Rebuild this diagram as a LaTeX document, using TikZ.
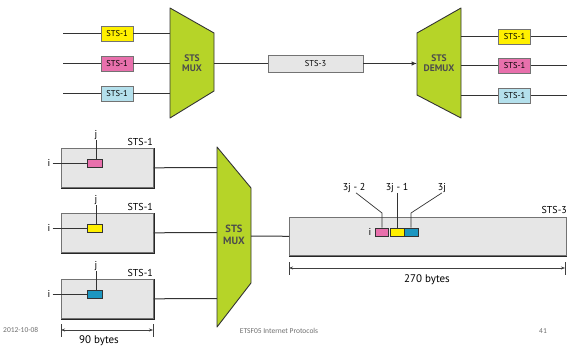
\documentclass[tikz,border=0pt]{standalone}
\usepackage{fontspec}
\setmainfont{PT Sans}
\newfontfamily\footfont{Carlito}
\usetikzlibrary{arrows.meta}
\definecolor{muxgreen}{RGB}{182,212,40}
\definecolor{stspink}{RGB}{232,112,172}
\definecolor{stsyellow}{RGB}{255,240,0}
\definecolor{stslblue}{RGB}{180,224,236}
\definecolor{stsblue}{RGB}{28,150,192}
\definecolor{framegray}{RGB}{230,230,230}
\definecolor{textgray}{RGB}{110,110,110}
\tikzset{
  wire/.style={draw=black!80, line width=1pt},
  thinwire/.style={draw=black!80, line width=0.7pt},
  tagbox/.style={draw=black!55, line width=0.6pt, minimum width=32pt, minimum height=15pt,
    inner sep=0pt, font=\fontsize{8.5}{9}\selectfont},
  muxshape/.style={fill=muxgreen, draw=black!80, line width=0.9pt, line join=round},
  muxtext/.style={font=\fontsize{9.5}{10.5}\selectfont\bfseries, text=black!70, align=center, inner sep=0pt},
  frame/.style={fill=framegray, draw=black!55, line width=0.6pt},
  shadowedge/.style={draw=black!85, line width=1.6pt},
  slot/.style={draw=black!80, line width=0.6pt, minimum width=15pt, minimum height=8pt, inner sep=0pt},
  lbl/.style={font=\fontsize{10}{11}\selectfont, inner sep=0pt},
  dimline/.style={draw=black!75, line width=0.6pt},
  dimarrow/.style={dimline, {Stealth[length=4pt,width=3pt]}-{Stealth[length=4pt,width=3pt]}},
  foot/.style={font=\footfont\fontsize{7.5}{8}\selectfont, text=textgray, inner sep=0pt}
}
\begin{document}
\begin{tikzpicture}[x=1pt, y=-1pt]
\useasboundingbox (0,0) rectangle (567,350);

% ---------- upper part: multiplexer and demultiplexer ----------
\draw[muxshape] (170,8) -- (214,33) -- (214,91) -- (170,118) -- cycle;
\node[muxtext] (mux) at (192,63) {STS\\MUX};
\coordinate (muxin1) at (170,34);
\coordinate (muxin2) at (170,64);
\coordinate (muxin3) at (170,94);
\coordinate (muxout) at (214,63.5);

\draw[muxshape] (417,33) -- (461,8) -- (461,118) -- (417,95) -- cycle;
\node[muxtext] (demux) at (439,63) {STS\\DEMUX};
\coordinate (dmxin) at (417,63.5);
\coordinate (dmxout1) at (461,37);
\coordinate (dmxout2) at (461,66);
\coordinate (dmxout3) at (461,96);

% input tributaries
\coordinate (src1) at (63,34);
\coordinate (src2) at (63,64);
\coordinate (src3) at (63,94);
\node[tagbox, fill=stsyellow] (in1) at (117,34) {STS-1};
\node[tagbox, fill=stspink]   (in2) at (117,64) {STS-1};
\node[tagbox, fill=stslblue]  (in3) at (117,94) {STS-1};
\foreach \k in {1,2,3} {
  \draw[wire] (src\k) -- (in\k.west);
  \draw[wire] (in\k.east) -- (muxin\k);
}

% aggregate signal
\node[frame, minimum width=95pt, minimum height=17pt, inner sep=0pt,
      font=\fontsize{8.5}{9}\selectfont] (sts3) at (315.5,63.5) {STS-3};
\draw[wire] (muxout) -- (sts3.west);
\draw[wire, -{Latex[length=5.5pt,width=4.5pt]}] (sts3.east) -- (dmxin);

% output tributaries
\coordinate (dst1) at (567,37);
\coordinate (dst2) at (567,66);
\coordinate (dst3) at (567,96);
\node[tagbox, fill=stsyellow] (out1) at (514.5,37) {STS-1};
\node[tagbox, fill=stspink]   (out2) at (514.5,66) {STS-1};
\node[tagbox, fill=stslblue]  (out3) at (514.5,96) {STS-1};
\foreach \k in {1,2,3} {
  \draw[wire] (dmxout\k) -- (out\k.west);
  \draw[wire] (out\k.east) -- (dst\k);
}

% ---------- lower part: byte interleaving ----------
\draw[muxshape] (217,147) -- (251,188) -- (251,283) -- (217,327) -- cycle;
\node[muxtext, font=\fontsize{10.5}{12}\selectfont\bfseries] (mux2) at (234,235) {STS\\MUX};

\foreach \k/\top/\col in {1/148/stspink, 2/213/stsyellow, 3/279/stsblue} {
  \node[frame, minimum width=92pt, minimum height=39pt, inner sep=0pt, anchor=north west]
    (f\k) at (61,\top) {};
  \draw[shadowedge] ([xshift=0.8pt]f\k.north east) -- ([xshift=0.8pt,yshift=-0.8pt]f\k.south east)
                    -- ([yshift=-0.8pt]f\k.south west);
  \node[slot, fill=\col] (b\k) at (95,\top+15) {};
  \node[lbl] (j\k) at (96,\top-13) {j};
  \node[lbl] (i\k) at (49,\top+15) {i};
  \node[lbl, anchor=east] (n\k) at (153,\top-6) {STS-1};
  \draw[thinwire] (j\k.south) -- (b\k.north -| j\k.south);
  \draw[thinwire] (i\k.east) ++(2,0) -- (b\k.west);
  \coordinate (m\k) at (217,\top+19.5);
  \draw[wire] (f\k.east) -- (m\k);
}

% interleaved STS-3 frame
\node[frame, minimum width=277pt, minimum height=38pt, inner sep=0pt, anchor=north west]
  (g) at (289,217) {};
\draw[shadowedge] ([xshift=0.8pt]g.north east) -- ([xshift=0.8pt,yshift=-0.8pt]g.south east)
                  -- ([yshift=-0.8pt]g.south west);
\node[lbl, anchor=east] (gn) at (567,210) {STS-3};
\coordinate (mux2out) at (251,236);
\draw[wire] (mux2out) -- (g.west);

\node[slot, fill=stspink,   minimum width=13pt] (s1) at (382,232) {};
\node[slot, fill=stsyellow, minimum width=14pt] (s2) at (397,232) {};
\node[slot, fill=stsblue,   minimum width=14pt] (s3) at (411,232) {};
\node[lbl] (gi) at (370,232) {i};

\node[lbl] (t1) at (354,188) {3j - 2};
\node[lbl] (t2) at (397,188) {3j - 1};
\node[lbl] (t3) at (442,188) {3j};
\draw[thinwire] ([xshift=2pt]t1.south) -- (382,213) -- (s1.north);
\draw[thinwire] (t2.south) -- (s2.north);
\draw[thinwire] (t3.south) -- (411,213) -- (s3.north);

% dimensions
\coordinate (d1a) at (289,268);
\coordinate (d1b) at (565,268);
\draw[dimline] (289,262) -- (289,275) (565,262) -- (565,275);
\draw[dimarrow] (d1a) -- (d1b);
\node[lbl, font=\fontsize{11}{12}\selectfont] (d1t) at (427,280) {270 bytes};

\coordinate (d2a) at (61,330);
\coordinate (d2b) at (153,330);
\draw[dimline] (61,324) -- (61,337) (153,324) -- (153,337);
\draw[dimarrow] (d2a) -- (d2b);
\node[lbl, font=\fontsize{11}{12}\selectfont] (d2t) at (99,341) {90 bytes};

% footer
\node[foot, anchor=west] (date) at (3,330) {2012-10-08};
\node[foot] (course) at (279,331) {ETSF05 Internet Protocols};
\node[foot] (page) at (543,331) {41};
\end{tikzpicture}
\end{document}
